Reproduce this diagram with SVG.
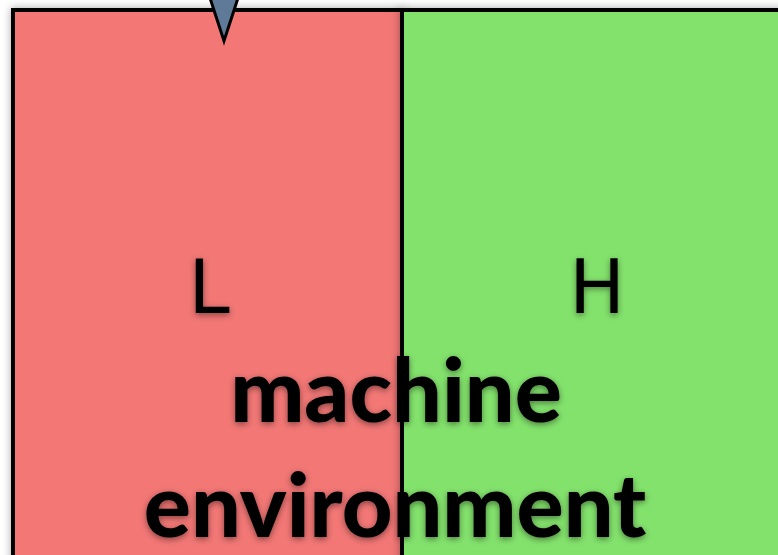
<svg xmlns="http://www.w3.org/2000/svg" width="778" height="555" viewBox="0 0 778 555">
<style>
.box{stroke:#000;stroke-width:4}
.lbl{font-family:"DejaVu Sans","Liberation Sans",sans-serif;font-size:74px;fill:#000;text-anchor:middle}
.big{font-family:Lato,"Open Sans",sans-serif;font-weight:900;font-size:88px;fill:#000;text-anchor:middle}
</style>
<defs>
<filter id="sh" x="-20%" y="-20%" width="140%" height="140%">
<feDropShadow dx="0" dy="2" stdDeviation="3" flood-color="#000" flood-opacity="0.45"/>
</filter>
<filter id="bs" x="-5%" y="-5%" width="110%" height="110%">
<feDropShadow dx="0" dy="0" stdDeviation="4" flood-color="#000" flood-opacity="0.35"/>
</filter>
</defs>
<rect width="778" height="555" fill="#fff"/>
<g id="node-L" filter="url(#bs)">
<rect class="box" x="13" y="10" width="389" height="560" fill="#F27775"/>
<text class="lbl" x="209" y="313" filter="url(#sh)">L</text>
</g>
<g id="node-H" filter="url(#bs)">
<rect class="box" x="402" y="10" width="389" height="560" fill="#83E26C"/>
<text class="lbl" x="597" y="313" filter="url(#sh)">H</text>
</g>
<g id="connectors">
<path d="M210,-2 L224,41 L238,-2" fill="#5F7A99" stroke="#000" stroke-width="3" stroke-linejoin="miter"/>
</g>
<g id="title" filter="url(#sh)">
<text class="big" x="396" y="422">machine</text>
<text class="big" x="395" y="537">environment</text>
</g>
</svg>
